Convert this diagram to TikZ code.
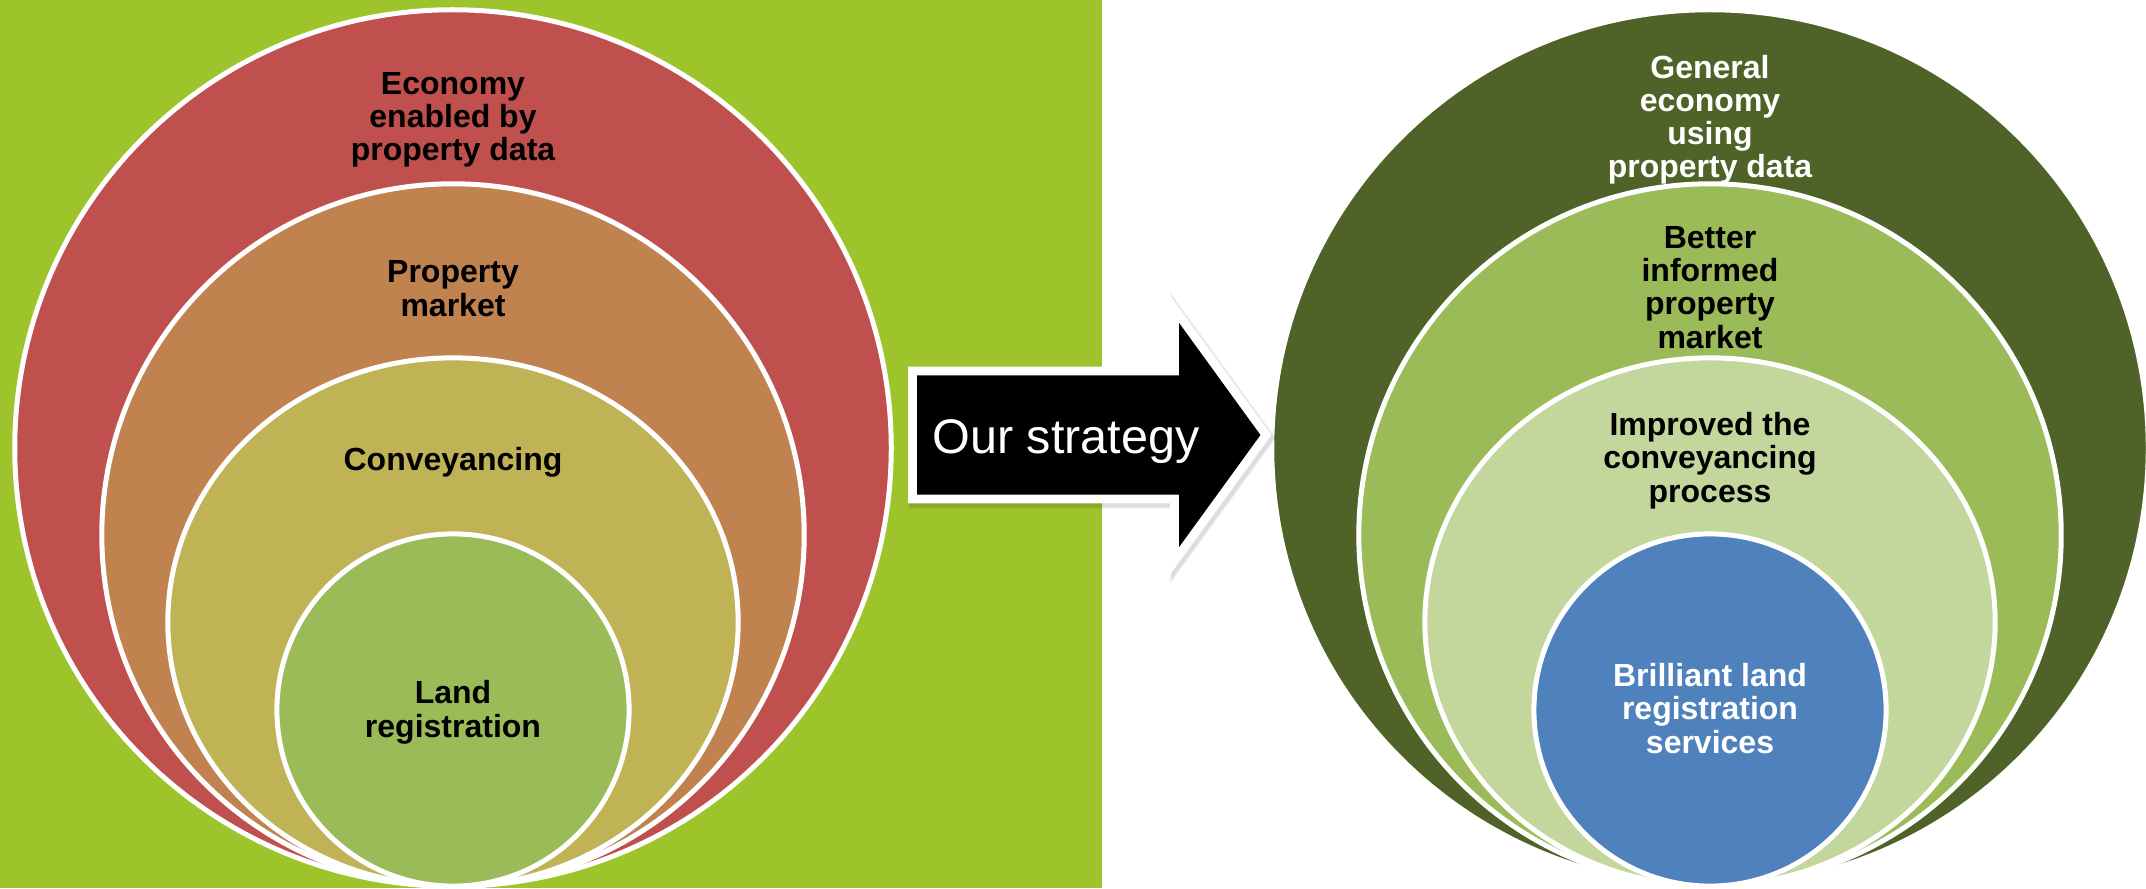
\documentclass[tikz,border=0pt]{standalone}
\usepackage{fontspec}
\setmainfont{Liberation Sans}
\definecolor{bgl}{RGB}{157,197,43}
\definecolor{cred}{RGB}{192,80,77}
\definecolor{cbrown}{RGB}{192,131,80}
\definecolor{cyel}{RGB}{192,179,85}
\definecolor{cgreen}{RGB}{155,187,89}
\definecolor{cdark}{RGB}{79,98,40}
\definecolor{clight}{RGB}{195,214,155}
\definecolor{cblue}{RGB}{79,129,189}
\begin{document}
\begin{tikzpicture}[x=0.01cm,y=-0.01cm,
  ring/.style={draw=white, line width=0.05cm},
  lbl/.style={align=center, font=\fontsize{9.1pt}{9.4pt}\selectfont\bfseries, inner sep=0pt, anchor=base},
  arrowpath/.style={line width=0.087cm, miter limit=10}]
\useasboundingbox (0,0) rectangle (2146,888);
\fill[white] (0,0) rectangle (2146,888);
\fill[bgl] (0,0) rectangle (1102,888);
% left rings
\path[ring, fill=cred]   (453,448) circle [radius=4.38cm];
\path[ring, fill=cbrown] (453,535) circle [radius=3.51cm];
\path[ring, fill=cyel]   (453,622) ellipse [x radius=2.85cm, y radius=2.64cm];
\path[ring, fill=cgreen] (453,710) circle [radius=1.76cm];
% right rings
\path[ring, fill=cdark]  (1710,448) circle [radius=4.38cm];
\path[ring, fill=cgreen] (1710,535) circle [radius=3.51cm];
\path[ring, fill=clight] (1710,622) ellipse [x radius=2.85cm, y radius=2.64cm];
\path[ring, fill=cblue]  (1710,710) circle [radius=1.76cm];
% arrow shadow (soft, offset down-right)
\path[arrowpath, line width=0.13cm, fill=black, draw=black, opacity=0.06, shift={(2,3)}] (912.5,371) -- (1174.5,371) -- (1174.5,309) -- (1266,435) -- (1174.5,561) -- (1174.5,499) -- (912.5,499) -- cycle;
\path[arrowpath, line width=0.105cm, fill=black, draw=black, opacity=0.08, shift={(2,3)}] (912.5,371) -- (1174.5,371) -- (1174.5,309) -- (1266,435) -- (1174.5,561) -- (1174.5,499) -- (912.5,499) -- cycle;
% arrow
\path[arrowpath, fill=black, draw=white] (912.5,371) -- (1174.5,371) -- (1174.5,309) -- (1266,435) -- (1174.5,561) -- (1174.5,499) -- (912.5,499) -- cycle;
\node[font=\fontsize{13.8pt}{16pt}\selectfont, text=white, anchor=base, inner sep=0pt] (strat) at (1066,453) {Our strategy};
% left labels (anchored at the baseline of the last line)
\node[lbl] (econ) at (453,161) {Economy\\enabled by\\property data};
\node[lbl] (prop) at (453,316) {Property\\market};
\node[lbl] (conv) at (453,470) {Conveyancing};
\node[lbl] (land) at (453,737) {Land\\registration};
% right labels
\node[lbl, text=white] (gen) at (1710,178) {General\\economy\\using\\property data};
\node[lbl] (better) at (1710,348) {Better\\informed\\property\\market};
\node[lbl] (impr) at (1710,502) {Improved the\\conveyancing\\process};
\node[lbl, text=white] (bril) at (1710,753) {Brilliant land\\registration\\services};
\end{tikzpicture}
\end{document}
